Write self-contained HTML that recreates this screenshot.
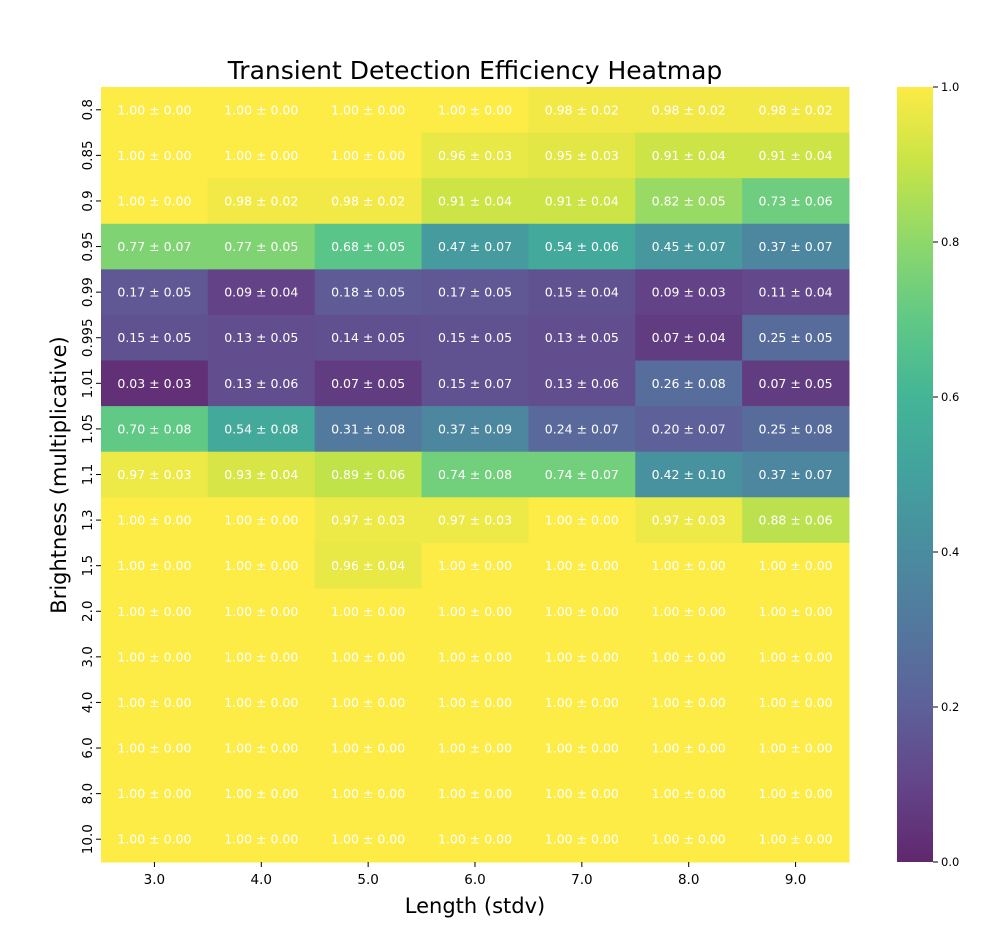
<!DOCTYPE html>
<html><head><meta charset="utf-8"><style>
body{margin:0;background:#fff;}
svg{display:block;font-family:"DejaVu Sans","Liberation Sans",sans-serif;}
</style></head><body>
<svg id="chart" width="1008" height="926" viewBox="0 0 1008 926" xmlns="http://www.w3.org/2000/svg">
<defs>
<linearGradient id="vir" x1="0" y1="1" x2="0" y2="0">
<stop offset="0" stop-color="#440154"/><stop offset="0.1" stop-color="#482475"/><stop offset="0.2" stop-color="#414487"/><stop offset="0.3" stop-color="#355f8d"/><stop offset="0.4" stop-color="#2a788e"/><stop offset="0.5" stop-color="#21918c"/><stop offset="0.6" stop-color="#22a884"/><stop offset="0.7" stop-color="#44bf70"/><stop offset="0.8" stop-color="#7ad151"/><stop offset="0.9" stop-color="#bddf26"/><stop offset="1" stop-color="#fde725"/>
</linearGradient>
</defs>
<text x="475" y="79" font-size="25" text-anchor="middle" fill="#000">Transient Detection Efficiency Heatmap</text>
<g id="cells"></g>
<g id="xticks"></g>
<g id="yticks"></g>
<text x="475" y="913" font-size="21" text-anchor="middle">Length (stdv)</text>
<text transform="translate(66,475) rotate(-90)" font-size="21" text-anchor="middle">Brightness (multiplicative)</text>
<rect x="897" y="87" width="36" height="775" fill="url(#vir)" opacity="0.85"/>
<g id="cbticks"></g>
</svg>
<script>
const xLabels=["3.0","4.0","5.0","6.0","7.0","8.0","9.0"];
const yLabels=["0.8","0.85","0.9","0.95","0.99","0.995","1.01","1.05","1.1","1.3","1.5","2.0","3.0","4.0","6.0","8.0","10.0"];
const means=[
[1.00,1.00,1.00,1.00,0.98,0.98,0.98],
[1.00,1.00,1.00,0.96,0.95,0.91,0.91],
[1.00,0.98,0.98,0.91,0.91,0.82,0.73],
[0.77,0.77,0.68,0.47,0.54,0.45,0.37],
[0.17,0.09,0.18,0.17,0.15,0.09,0.11],
[0.15,0.13,0.14,0.15,0.13,0.07,0.25],
[0.03,0.13,0.07,0.15,0.13,0.26,0.07],
[0.70,0.54,0.31,0.37,0.24,0.20,0.25],
[0.97,0.93,0.89,0.74,0.74,0.42,0.37],
[1.00,1.00,0.97,0.97,1.00,0.97,0.88],
[1.00,1.00,0.96,1.00,1.00,1.00,1.00],
[1.00,1.00,1.00,1.00,1.00,1.00,1.00],
[1.00,1.00,1.00,1.00,1.00,1.00,1.00],
[1.00,1.00,1.00,1.00,1.00,1.00,1.00],
[1.00,1.00,1.00,1.00,1.00,1.00,1.00],
[1.00,1.00,1.00,1.00,1.00,1.00,1.00],
[1.00,1.00,1.00,1.00,1.00,1.00,1.00]];
const errs=[
[0.00,0.00,0.00,0.00,0.02,0.02,0.02],
[0.00,0.00,0.00,0.03,0.03,0.04,0.04],
[0.00,0.02,0.02,0.04,0.04,0.05,0.06],
[0.07,0.05,0.05,0.07,0.06,0.07,0.07],
[0.05,0.04,0.05,0.05,0.04,0.03,0.04],
[0.05,0.05,0.05,0.05,0.05,0.04,0.05],
[0.03,0.06,0.05,0.07,0.06,0.08,0.05],
[0.08,0.08,0.08,0.09,0.07,0.07,0.08],
[0.03,0.04,0.06,0.08,0.07,0.10,0.07],
[0.00,0.00,0.03,0.03,0.00,0.03,0.06],
[0.00,0.00,0.04,0.00,0.00,0.00,0.00],
[0,0,0,0,0,0,0],[0,0,0,0,0,0,0],[0,0,0,0,0,0,0],[0,0,0,0,0,0,0],[0,0,0,0,0,0,0],[0,0,0,0,0,0,0]];
const cbTicks=[0,0.2,0.4,0.6,0.8,1.0];

const X0=101,X1=849,Y0=87,Y1=862,NS="http://www.w3.org/2000/svg";
const cw=(X1-X0)/xLabels.length, ch=(Y1-Y0)/yLabels.length;
const xPos=i=>X0+i*cw, yPos=j=>Y0+j*ch;
const stops=["#440154","#482475","#414487","#355f8d","#2a788e","#21918c","#22a884","#44bf70","#7ad151","#bddf26","#fde725"];
function hex(h){return [1,3,5].map(k=>parseInt(h.substr(k,2),16));}
function vir(v){v=Math.max(0,Math.min(1,v));const p=v*10,i=Math.min(9,Math.floor(p)),t=p-i;const a=hex(stops[i]),b=hex(stops[i+1]);return "rgb("+a.map((c,k)=>Math.round((c+(b[k]-c)*t)*0.85+255*0.15)).join(",")+")";}
function mk(tag,attrs,parent,txt){const e=document.createElementNS(NS,tag);for(const k in attrs)e.setAttribute(k,attrs[k]);if(txt!==undefined)e.textContent=txt;parent.appendChild(e);return e;}
const cells=document.getElementById("cells");
means.forEach((row,j)=>row.forEach((v,i)=>{
 const r=mk("rect",{x:xPos(i),y:yPos(j),width:cw+0.5,height:ch+0.5,fill:vir(v)},cells);
 
 
 const t=mk("text",{x:xPos(i)+cw/2,y:yPos(j)+ch/2+4.5,"font-size":12.5,"text-anchor":"middle",fill:"#fff"},cells,v.toFixed(2)+" ± "+errs[j][i].toFixed(2));
 
 
}));
const xt=document.getElementById("xticks");
xLabels.forEach((l,i)=>{const x=xPos(i)+cw/2;
 const ln=mk("line",{x1:x,x2:x,y1:Y1,y2:Y1+5,stroke:"#000"},xt);
 
 
 const t=mk("text",{x:x,y:Y1+22,"font-size":13.5,"text-anchor":"middle"},xt,l);
 
 
});
const yt=document.getElementById("yticks");
yLabels.forEach((l,j)=>{const y=yPos(j)+ch/2;
 const ln=mk("line",{x1:X0-5,x2:X0,y1:y,y2:y,stroke:"#000"},yt);
 
 
 const t=mk("text",{transform:"translate("+(X0-9)+","+y+") rotate(-90)","font-size":13.5,"text-anchor":"middle"},yt,l);
 
 
});
const cb=document.getElementById("cbticks");
cbTicks.forEach(v=>{const y=Y1-v*(Y1-Y0);
 const ln=mk("line",{x1:933,x2:938,y1:y,y2:y,stroke:"#000"},cb);
 
 
 const t=mk("text",{x:941,y:y+4,"font-size":11.5},cb,v.toFixed(1));
 
 
});
</script>
</body></html>
